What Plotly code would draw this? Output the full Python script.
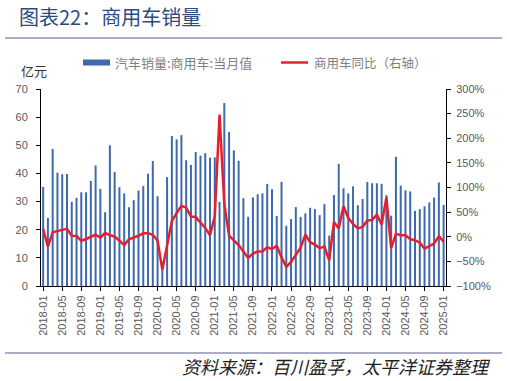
import plotly.graph_objects as go
import pandas as pd

months = [p.strftime("%Y-%m") for p in pd.period_range("2018-01", "2025-01", freq="M")]

sales = [
    35.2, 24.2, 48.7, 40.3, 39.7, 39.8, 29.9, 31.3, 33.3, 33.3, 37.3, 42.8,
    34.5, 26.2, 50.0, 40.5, 35.1, 32.9, 28.0, 30.5, 33.9, 35.5, 39.9, 44.4,
    31.9, 8.6, 38.7, 53.3, 52.1, 53.6, 44.7, 43.0, 47.6, 46.3, 47.2, 45.6,
    45.7, 29.9, 65.0, 54.7, 48.2, 44.5, 31.2, 24.6, 31.5, 32.6, 32.9, 36.3,
    34.4, 24.9, 37.0, 21.4, 23.8, 28.0, 24.5, 25.8, 27.8, 27.3, 25.2, 29.1,
    17.9, 32.3, 43.4, 34.7, 32.9, 35.4, 28.7, 30.9, 37.0, 36.5, 36.5, 36.3,
    32.3, 25.0, 45.9, 35.7, 34.0, 33.6, 26.7, 27.3, 28.3, 29.7, 31.4, 36.8,
    28.8,
]

yoy = [
    15.7, -20, 9, 12, 14, 16, 2, 1.5, -8, -4.5, 0, 4,
    -2, 8, 3, 0.5, -8, -17, -5, -2, 2, 7, 7, 4,
    -8, -67, -21, 32, 48, 63, 59, 41, 40, 30, 18, 3,
    42, 248, 66, 2, -8, -17, -30, -43, -34, -30, -30, -21,
    -25, -18, -42, -61, -51, -37, -22, 4, -11, -16, -23, -20,
    -48, 30, 17, 62, 38, 26, 17, 20, 33, 34, 45, 25,
    80, -23, 6, 3, 3, -5, -7, -12, -24, -19, -14, 1,
    -10,
]

tick_labels = months[::4]

title_text = "图表22：商用车销量"
bar_name = "汽车销量:商用车:当月值"
line_name = "商用车同比（右轴）"
unit_text = "亿元"
source_text = "资料来源：百川盈孚，太平洋证券整理"

BAR_COLOR = "#3E69AD"
LINE_COLOR = "#E5202E"
TICK_COLOR = "#595959"
RULE_COLOR = "#8F8FB8"

fig = go.Figure()
fig.add_trace(go.Bar(x=months, y=sales, name=bar_name, marker_color=BAR_COLOR,
                     marker_line_width=0, showlegend=False))
fig.add_trace(go.Scatter(x=months, y=yoy, name=line_name, yaxis="y2", mode="lines",
                         line=dict(color=LINE_COLOR, width=2.5), showlegend=False))

W, H = 507, 381
ML, MT = 41, 89
PW, PH = 405, 197
MR, MB = W - ML - PW, H - MT - PH

fig.update_layout(
    width=W, height=H,
    margin=dict(l=ML, r=MR, t=MT, b=MB, autoexpand=False),
    paper_bgcolor="white", plot_bgcolor="white",
    bargap=0.58,
    font=dict(family="Liberation Sans, Arial", size=11, color=TICK_COLOR),
    xaxis=dict(type="category", range=[-0.45, len(months) - 0.5],
               tickmode="array", tickvals=tick_labels, ticktext=tick_labels,
               tickangle=-90, ticks="outside", ticklen=4, tickcolor="#000",
               showline=True, linecolor="#000", linewidth=1, showgrid=False,
               tickfont=dict(size=11, color=TICK_COLOR)),
    yaxis=dict(range=[0, 70], dtick=10, tick0=0, ticks="outside", ticklen=4,
               tickcolor="#000", showline=True, linecolor="#000", linewidth=1,
               showgrid=False, zeroline=False, ticklabelstandoff=6,
               tickfont=dict(size=11, color=TICK_COLOR)),
    yaxis2=dict(range=[-100, 300], dtick=50, tick0=-100, overlaying="y", side="right",
                ticksuffix="%", ticks="outside", ticklen=4, tickcolor="#000",
                showline=True, linecolor="#000", linewidth=1, showgrid=False,
                zeroline=False, ticklabelstandoff=3,
                tickfont=dict(size=11, color=TICK_COLOR)),
)

def px(x):
    return (x - ML) / PW

def py(y):
    return (H - MB - y) / PH

shapes = [
    dict(type="line", x0=px(5), x1=px(502), y0=py(38), y1=py(38),
         line=dict(color=RULE_COLOR, width=1.5)),
    dict(type="line", x0=px(5), x1=px(502), y0=py(353), y1=py(353),
         line=dict(color=RULE_COLOR, width=1.5)),
    dict(type="rect", x0=px(83), x1=px(110), y0=py(65.5), y1=py(59.5),
         fillcolor=BAR_COLOR, line=dict(width=0)),
    dict(type="line", x0=px(281), x1=px(308), y0=py(62.5), y1=py(62.5),
         line=dict(color=LINE_COLOR, width=2.5)),
]
for s in shapes:
    s.update(xref="paper", yref="paper")
fig.update_layout(shapes=shapes)

annotations = [
    dict(text=title_text, x=px(17), y=py(16), xanchor="left", yanchor="middle",
         font=dict(family="Noto Sans CJK SC", size=20, color="#2B4C7E")),
    dict(text=bar_name, x=px(113), y=py(62.5), xanchor="left", yanchor="middle",
         font=dict(family="Noto Sans CJK SC", size=13, color="#7F7F7F")),
    dict(text=line_name, x=px(312), y=py(62.5), xanchor="left", yanchor="middle",
         font=dict(family="Noto Sans CJK SC", size=12.5, color="#7F7F7F")),
    dict(text=unit_text, x=px(19), y=py(71), xanchor="left", yanchor="middle",
         font=dict(family="Noto Sans CJK SC", size=13, color="#333333")),
    dict(text=source_text, x=px(493), y=py(366), xanchor="right", yanchor="middle",
         font=dict(family="Noto Sans CJK SC", size=18, color="#222222", style="italic")),
]
for a in annotations:
    a.update(xref="paper", yref="paper", showarrow=False)
fig.update_layout(annotations=annotations)

# remove the browser's default 8px body margin so the figure sits at the page origin
fig.write_html("out.html", config={"displayModeBar": False},
               post_script="document.body.style.margin='0';")
